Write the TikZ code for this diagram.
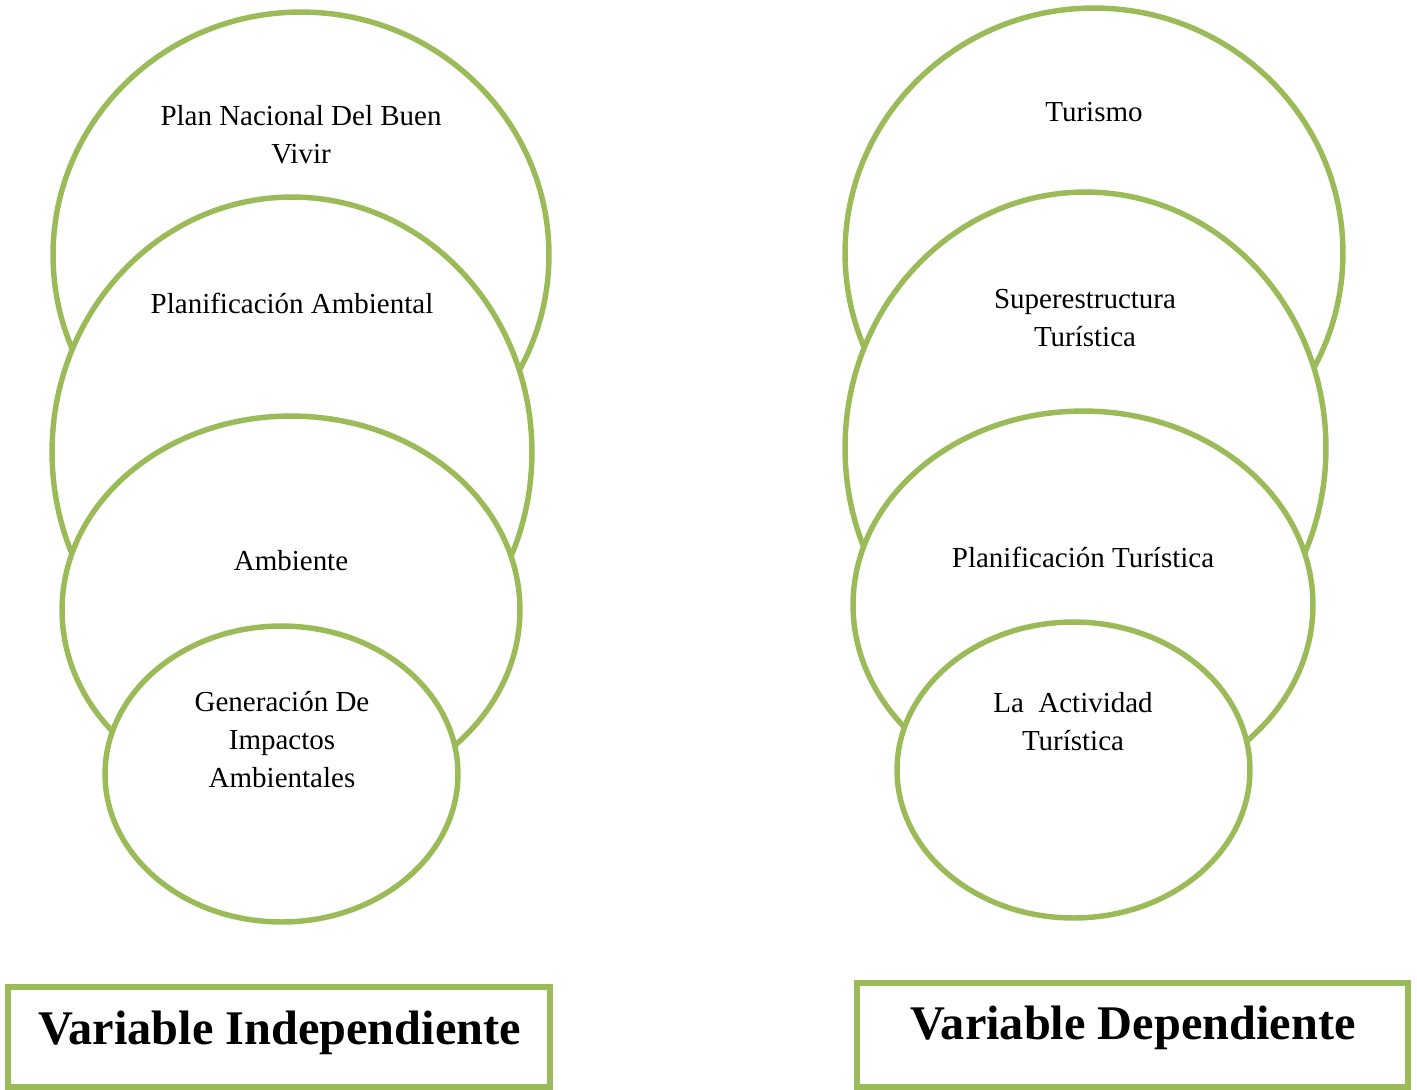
\documentclass[tikz,border=0pt]{standalone}
\usepackage{fontspec}
\setmainfont{Liberation Serif}
\usepackage{xcolor}
\definecolor{OliveGreen}{HTML}{9BBB59}
\usetikzlibrary{calc}

\tikzset{
  ring/.style={draw=OliveGreen, fill=white, line width=3.1pt},
  circtext/.style={align=center, font=\fontsize{16.5}{21.6}\selectfont},
  varbox/.style={draw=OliveGreen, line width=3.1pt, inner sep=0pt},
  vartext/.style={font=\bfseries\fontsize{27.5}{32}\selectfont}
}

\begin{document}
\begin{tikzpicture}[x=0.02cm, y=-0.02cm, line cap=round]
  \useasboundingbox (0,0) rectangle (1417,1089);

  % left column
  \coordinate (L1) at (301,255);
  \coordinate (L2) at (292,452);
  \coordinate (L3) at (291,610);
  \coordinate (L4) at (281.5,774);

  % right column
  \coordinate (R1) at (1094,253);
  \coordinate (R2) at (1085.5,448);
  \coordinate (R3) at (1083,605);
  \coordinate (R4) at (1073.5,770);

  \filldraw[ring] (L1) ellipse [x radius=4.96cm, y radius=4.86cm];
  \filldraw[ring] (L2) ellipse [x radius=4.80cm, y radius=5.10cm];
  \filldraw[ring] (L3) ellipse [x radius=4.58cm, y radius=3.88cm];
  \filldraw[ring] (L4) ellipse [x radius=3.53cm, y radius=2.96cm];

  \filldraw[ring] (R1) ellipse [x radius=4.98cm, y radius=4.90cm];
  \filldraw[ring] (R2) ellipse [x radius=4.81cm, y radius=5.12cm];
  \filldraw[ring] (R3) ellipse [x radius=4.60cm, y radius=3.88cm];
  \filldraw[ring] (R4) ellipse [x radius=3.53cm, y radius=2.96cm];

  \node[circtext] (plan) at (301,135) {Plan Nacional Del Buen\\Vivir};
  \node[circtext] (planamb) at (292,303) {Planificación Ambiental};
  \node[circtext] (amb) at (291,561) {Ambiente};
  \node[circtext] (gen) at (282,740) {Generación De\\Impactos\\Ambientales};

  \node[circtext] (tur) at (1094,112) {Turismo};
  \node[circtext] (super) at (1085,318.5) {Superestructura\\Turística};
  \node[circtext] (plantur) at (1083,557) {Planificación Turística};
  \node[circtext] (act) at (1073,721.5) {La\ \ Actividad\\Turística};

  \node[varbox, minimum width=10.84cm, minimum height=2cm] (indep) at (279,1037) {};
  \node[varbox, minimum width=11.02cm, minimum height=2.08cm] (dep) at (1132.5,1035) {};
  \node[vartext] (indeptext) at (279.5,1033) {Variable Independiente};
  \node[vartext] (deptext) at (1133,1028) {Variable Dependiente};

\end{tikzpicture}
\end{document}
